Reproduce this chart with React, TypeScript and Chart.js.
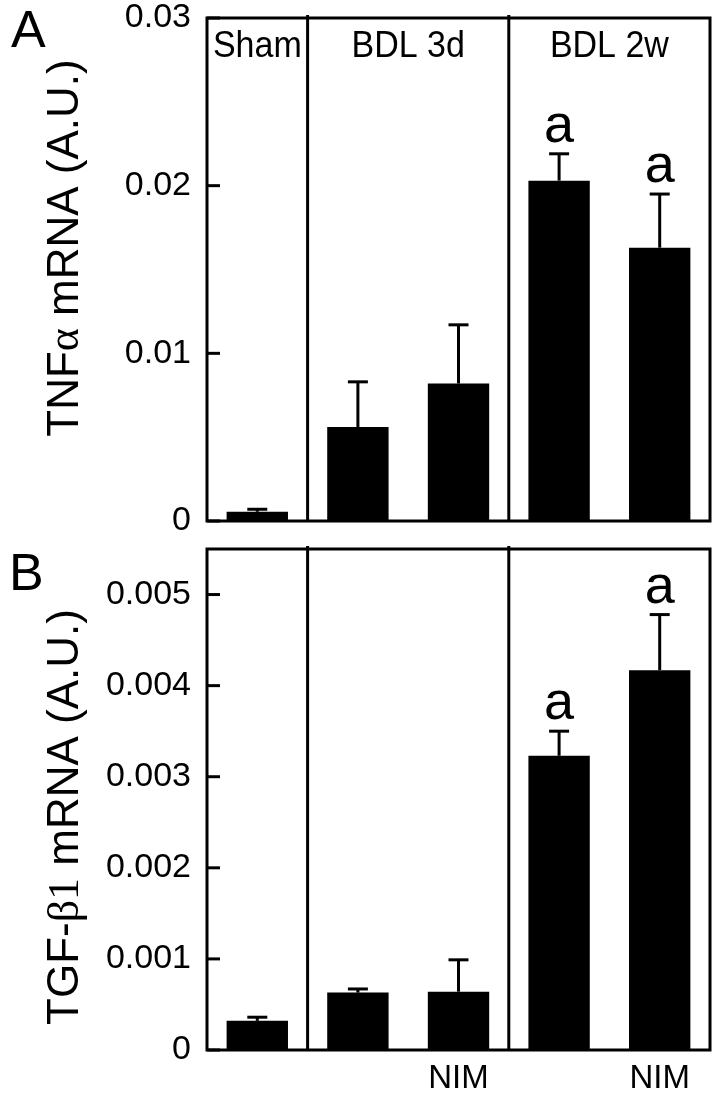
import React, { useEffect, useRef } from 'react';
import { Chart, registerables } from 'chart.js';

Chart.register(...registerables);

// ---------- data ----------
const categories = ['Sham', 'BDL 3d', 'BDL 3d NIM', 'BDL 2w', 'BDL 2w NIM'];
const xTickLabels = ['', '', 'NIM', '', 'NIM'];
const groupNames = ['Sham', 'BDL 3d', 'BDL 2w'];
const groupFirst = [0, 1, 3];
const groupLast = [0, 2, 4];

const tnfMean = [0.00055, 0.0056, 0.0082, 0.0203, 0.0163];
const tnfSem = [0.00015, 0.0027, 0.0035, 0.0016, 0.0032];
const tnfSig = ['', '', '', 'a', 'a'];
const tnfTicks = [0, 0.01, 0.02, 0.03];
const tnfTickLabels = ['0', '0.01', '0.02', '0.03'];

const tgfMean = [0.00032, 0.00063, 0.00064, 0.00323, 0.00417];
const tgfSem = [0.00004, 0.00004, 0.00035, 0.00027, 0.00061];
const tgfSig = ['', '', '', 'a', 'a'];
const tgfTicks = [0, 0.001, 0.002, 0.003, 0.004, 0.005];
const tgfTickLabels = ['0', '0.001', '0.002', '0.003', '0.004', '0.005'];

const SANS = '"Liberation Sans", Arial, Helvetica, sans-serif';
const SERIF = '"Liberation Serif", "Times New Roman", serif';

type Piece = [string, boolean];
type Panel = {
  letter: string;
  letterX: number;
  letterBaseline: number;
  title: Piece[];
  titleCenterY: number;
  mean: number[];
  sem: number[];
  sig: string[];
  ticks: number[];
  tickLabels: string[];
  max: number;
  height: number;
  padTop: number;
  padBottom: number;
  showGroups: boolean;
  showXLabels: boolean;
};

const panelA: Panel = {
  letter: 'A',
  letterX: 11,
  letterBaseline: 47,
  title: [['TNF', false], ['\u03B1', true], [' mRNA (A.U.)', false]],
  titleCenterY: 248,
  mean: tnfMean,
  sem: tnfSem,
  sig: tnfSig,
  ticks: tnfTicks,
  tickLabels: tnfTickLabels,
  max: 0.03,
  height: 535,
  padTop: 18,
  padBottom: 14,
  showGroups: true,
  showXLabels: false,
};

const panelB: Panel = {
  letter: 'B',
  letterX: 9,
  letterBaseline: 55,
  title: [['TGF-', false], ['\u03B21', true], [' mRNA (A.U.)', false]],
  titleCenterY: 282,
  mean: tgfMean,
  sem: tgfSem,
  sig: tgfSig,
  ticks: tgfTicks,
  tickLabels: tgfTickLabels,
  max: 0.0055,
  height: 565,
  padTop: 14,
  padBottom: 50,
  showGroups: false,
  showXLabels: true,
};

function makeDecor(p: Panel) {
  return {
    id: 'decor',
    afterDraw(chart: any) {
      const ctx: CanvasRenderingContext2D = chart.ctx;
      const area = chart.chartArea;
      const xs = chart.scales.x;
      const ys = chart.scales.y;
      const meta = chart.getDatasetMeta(0);
      const line = (x1: number, y1: number, x2: number, y2: number) => {
        ctx.beginPath();
        ctx.moveTo(x1, y1);
        ctx.lineTo(x2, y2);
        ctx.stroke();
      };
      const stretchText = (txt: string, x: number, y: number, sy: number) => {
        ctx.save();
        ctx.translate(x, y);
        ctx.scale(1, sy);
        ctx.fillText(txt, 0, 0);
        ctx.restore();
      };
      ctx.save();
      ctx.strokeStyle = '#000';
      ctx.fillStyle = '#000';
      ctx.lineWidth = 3;
      ctx.lineCap = 'butt';

      // error bars + significance letters
      meta.data.forEach((bar: any, i: number) => {
        const x = bar.x;
        const yb = ys.getPixelForValue(p.mean[i]);
        const yt = ys.getPixelForValue(p.mean[i] + p.sem[i]);
        line(x, yb, x, yt);
        line(x - 10, yt, x + 10, yt);
        if (p.sig[i]) {
          ctx.font = `54px ${SANS}`;
          ctx.textAlign = 'center';
          ctx.textBaseline = 'alphabetic';
          ctx.fillText(p.sig[i], x, yt - 12);
        }
      });

      // frame
      ctx.strokeRect(area.left, area.top, area.right - area.left, area.bottom - area.top);

      // group separators
      for (let g = 0; g < groupLast.length - 1; g++) {
        const xa = xs.getPixelForValue(groupLast[g]);
        const xb = xs.getPixelForValue(groupFirst[g + 1]);
        const xm = (xa + xb) / 2;
        line(xm, area.top - 3, xm, area.bottom);
      }

      // inward y ticks
      ys.ticks.forEach((t: any) => {
        const y = ys.getPixelForValue(t.value);
        line(area.left, y, area.left + 13, y);
      });

      // group labels
      if (p.showGroups) {
        ctx.font = `34px ${SANS}`;
        ctx.textAlign = 'center';
        ctx.textBaseline = 'alphabetic';
        groupNames.forEach((name, g) => {
          const cx = (xs.getPixelForValue(groupFirst[g]) + xs.getPixelForValue(groupLast[g])) / 2;
          stretchText(name, cx, area.top + 39, 1.08);
        });
      }

      // x labels
      if (p.showXLabels) {
        ctx.font = `33px ${SANS}`;
        ctx.textAlign = 'center';
        ctx.textBaseline = 'alphabetic';
        xTickLabels.forEach((lab, i) => {
          if (lab) ctx.fillText(lab, xs.getPixelForValue(i), area.bottom + 38);
        });
      }

      // panel letter
      ctx.font = `52px ${SANS}`;
      ctx.textAlign = 'left';
      ctx.textBaseline = 'alphabetic';
      ctx.fillText(p.letter, p.letterX, p.letterBaseline);

      // y-axis title (rotated, mixed fonts)
      ctx.save();
      ctx.translate(78, p.titleCenterY);
      ctx.rotate(-Math.PI / 2);
      ctx.textAlign = 'left';
      ctx.textBaseline = 'alphabetic';
      const widths = p.title.map(([txt, serif]) => {
        ctx.font = `44px ${serif ? SERIF : SANS}`;
        return ctx.measureText(txt).width;
      });
      const total = widths.reduce((a, b) => a + b, 0);
      let cx = -total / 2;
      p.title.forEach(([txt, serif], k) => {
        ctx.font = `44px ${serif ? SERIF : SANS}`;
        ctx.fillText(txt, cx, 0);
        cx += widths[k];
      });
      ctx.restore();

      ctx.restore();
    },
  };
}

function PanelChart({ p }: { p: Panel }) {
  const ref = useRef<HTMLCanvasElement>(null);
  useEffect(() => {
    const chart = new Chart(ref.current as HTMLCanvasElement, {
      type: 'bar',
      data: {
        labels: categories,
        datasets: [
          {
            data: p.mean,
            backgroundColor: '#000',
            borderWidth: 0,
            barPercentage: 0.61,
            categoryPercentage: 1,
          },
        ],
      },
      options: {
        responsive: false,
        animation: false,
        devicePixelRatio: 1,
        layout: { padding: { left: 0, right: 10, top: p.padTop, bottom: p.padBottom } },
        plugins: { legend: { display: false }, tooltip: { enabled: false } },
        scales: {
          x: { display: false },
          y: {
            min: 0,
            max: p.max,
            grid: { display: false, drawTicks: false },
            border: { display: false },
            afterBuildTicks: (s: any) => {
              s.ticks = p.ticks.map((v) => ({ value: v }));
            },
            afterFit: (s: any) => {
              s.width = 207;
              s.paddingTop = 0;
              s.paddingBottom = 0;
            },
            ticks: {
              padding: 16,
              color: '#000',
              font: { family: SANS, size: 34, lineHeight: 1 },
              callback: (v: any) => {
                const idx = p.ticks.indexOf(Number(v));
                return idx >= 0 ? p.tickLabels[idx] : '';
              },
            },
          },
        },
      } as any,
      plugins: [makeDecor(p)],
    });
    return () => chart.destroy();
  }, [p]);
  return (
    <canvas
      ref={ref}
      width={720}
      height={p.height}
      style={{ display: 'block', width: 720, height: p.height }}
    />
  );
}

export default function App() {
  return (
    <div style={{ position: 'absolute', left: 0, top: 0, width: 720, height: 1100, background: '#fff' }}>
      <PanelChart p={panelA} />
      <PanelChart p={panelB} />
    </div>
  );
}
